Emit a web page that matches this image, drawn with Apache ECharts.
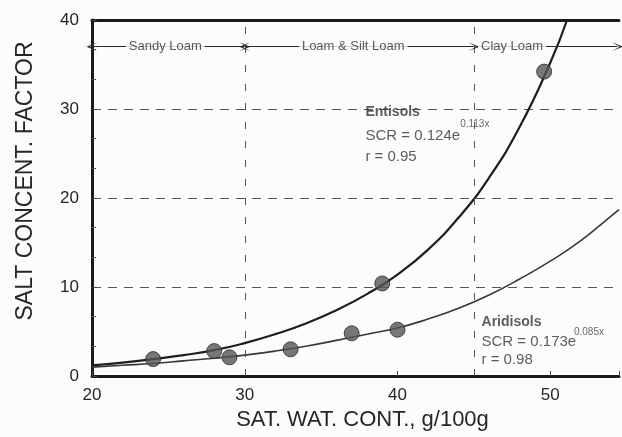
<!DOCTYPE html>
<html>
<head>
<meta charset="utf-8">
<script src="https://cdn.jsdelivr.net/npm/echarts@6/dist/echarts.min.js"></script>
<style>
html,body{margin:0;padding:0;background:#fcfcfc;}
#chart{width:622px;height:437px;}
</style>
</head>
<body>
<div id="chart"></div>
<script>
// ---- data ----
const xTicks = [20, 30, 40, 50];
const yTicks = [0, 10, 20, 30, 40];

// Entisols measured points
const entisolsX = [24, 28, 39, 49.6];
const entisolsY = [1.9, 2.8, 10.4, 34.2];
// Aridisols measured points
const aridisolsX = [29, 33, 37, 40];
const aridisolsY = [2.1, 3.0, 4.8, 5.2];

// fitted curves
const entisolsFitX = [20, 22, 24, 26, 28, 30, 32, 34, 36, 38, 40, 42, 44, 46, 48, 50, 51.1];
const entisolsFitY = [1.2, 1.5, 1.9, 2.35, 2.9, 3.7, 4.7, 5.9, 7.4, 9.2, 11.4, 14.2, 17.8, 22.3, 28.0, 35.2, 40];
const aridisolsFitX = [20, 22, 24, 26, 28, 30, 32, 34, 36, 38, 40, 42, 44, 46, 48, 50, 52, 54, 54.5];
const aridisolsFitY = [1.0, 1.2, 1.4, 1.7, 2.0, 2.35, 2.8, 3.35, 4.0, 4.7, 5.4, 6.4, 7.6, 9.1, 10.9, 12.9, 15.2, 18.0, 18.7];

// texture class boundaries
const textureBounds = [30, 45];
const textureNames = ['Sandy Loam', 'Loam & Silt Loam', 'Clay Loam'];
const textureLabelX = [24.8, 37.1, 47.5];
const textureRowY = 37;

// annotations
const annoText = ['Entisols', 'SCR = 0.124e', '0.113x', 'r = 0.95', 'Aridisols', 'SCR = 0.173e', '0.085x', 'r = 0.98'];
const annoX = [37.9, 37.9, 44.1, 37.9, 45.5, 45.5, 51.55, 45.5];
const annoY = [29.7, 26.95, 28.3, 24.6, 6.05, 3.8, 4.9, 1.8];
const annoKind = ['b', 'n', 's', 'n', 'b', 'n', 's', 'n'];

const zip = (xs, ys) => xs.map((x, i) => [x, ys[i]]);
const FONT = '"Liberation Sans", Arial, sans-serif';
const BG = '#fcfcfc';
const INK = '#262626';

const chart = echarts.init(document.getElementById('chart'), null, {renderer: 'canvas'});

const arrowSym = 'path://M0,10L5,0L10,10L5,3Z';

const option = {
  backgroundColor: BG,
  animation: false,
  grid: {left: 92, right: 0, top: 20, bottom: 61, containLabel: false},
  xAxis: [{
    type: 'value', min: 20, max: 54.5, interval: 10,
    name: 'SAT. WAT. CONT., g/100g', nameLocation: 'middle', nameGap: 26,
    nameTextStyle: {fontFamily: FONT, fontSize: 22, color: INK, padding: [0, 0, 0, 14]},
    axisLine: {show: true, lineStyle: {color: '#1a1a1a', width: 3}},
    axisTick: {show: true, inside: true, length: 5, lineStyle: {color: '#444'}},
    axisLabel: {fontFamily: FONT, fontSize: 17, color: INK, margin: 11,
      formatter: v => (xTicks.indexOf(v) >= 0 ? String(v) : '')},
    splitLine: {show: false}
  }, {
    type: 'value', min: 20, max: 54.5, position: 'top',
    axisLine: {show: true, lineStyle: {color: '#1a1a1a', width: 3}},
    axisTick: {show: false}, axisLabel: {show: false}, splitLine: {show: false}
  }],
  yAxis: {
    type: 'value', min: 0, max: 40, interval: 10,
    name: 'SALT CONCENT. FACTOR', nameLocation: 'middle', nameGap: 55,
    nameTextStyle: {fontFamily: FONT, fontSize: 23, color: INK, padding: [0, 0, 0, 34]},
    axisLine: {show: true, lineStyle: {color: '#1a1a1a', width: 3}},
    axisTick: {show: true, inside: true, length: 5, lineStyle: {color: '#444'}},
    minorTick: {show: true, splitNumber: 3, length: 4, lineStyle: {color: '#555'}},
    axisLabel: {fontFamily: FONT, fontSize: 17, color: INK, margin: 13,
      formatter: v => (yTicks.indexOf(v) >= 0 ? String(v) : '')},
    splitLine: {show: true, lineStyle: {color: '#555', width: 1, type: [9, 7]}}
  },
  series: [
    {
      name: 'bounds', type: 'line', data: [], z: 1, silent: true,
      markLine: {
        silent: true, symbol: ['none', 'none'],
        label: {show: false},
        lineStyle: {color: '#555', width: 1, type: [7, 12]},
        data: textureBounds.map(b => [{coord: [b, 0]}, {coord: [b, 40]}])
      }
    },
    {
      name: 'texture', type: 'line', data: [], z: 2, silent: true,
      markLine: {
        silent: true, symbol: ['none', 'none'], symbolSize: [9, 11],
        label: {show: false},
        lineStyle: {color: '#2a2a2a', width: 1.2, type: 'solid'},
        data: [
          [{coord: [20, textureRowY], symbol: arrowSym}, {coord: [textureBounds[0], textureRowY], symbol: arrowSym}],
          [{coord: [textureBounds[0], textureRowY], symbol: arrowSym}, {coord: [textureBounds[1], textureRowY], symbol: arrowSym}],
          [{coord: [textureBounds[1] + 0.2, textureRowY], symbol: 'none'}, {coord: [54.4, textureRowY], symbol: arrowSym}]
        ]
      }
    },
    {
      name: 'textureLabels', type: 'scatter', z: 6, silent: true, symbolSize: 0,
      data: textureNames.map((n, i) => ({name: n, value: [textureLabelX[i], textureRowY]})),
      label: {show: true, position: 'inside', formatter: p => p.name,
        fontFamily: FONT, fontSize: 13, color: '#2e2e2e', backgroundColor: BG, padding: [1, 3]}
    },
    {
      name: 'Entisols fit', type: 'line', smooth: true, showSymbol: false, symbol: 'none', z: 3,
      data: zip(entisolsFitX, entisolsFitY),
      lineStyle: {color: '#1e1e1e', width: 2.2}
    },
    {
      name: 'Aridisols fit', type: 'line', smooth: true, showSymbol: false, symbol: 'none', z: 3,
      data: zip(aridisolsFitX, aridisolsFitY),
      lineStyle: {color: '#383838', width: 1.6}
    },
    {
      name: 'Entisols', type: 'scatter', z: 4, symbolSize: 15,
      data: zip(entisolsX, entisolsY),
      itemStyle: {color: '#555', borderColor: '#2a2a2a', borderWidth: 1}
    },
    {
      name: 'Aridisols', type: 'scatter', z: 4, symbolSize: 15,
      data: zip(aridisolsX, aridisolsY),
      itemStyle: {color: '#555', borderColor: '#2a2a2a', borderWidth: 1}
    },
    {
      name: 'annotations', type: 'scatter', z: 7, silent: true, symbolSize: 0,
      data: annoText.map((t, i) => ({name: t, value: [annoX[i], annoY[i]]})),
      label: {show: true, position: 'right', distance: 0, align: 'left', verticalAlign: 'middle',
        formatter: p => '{' + annoKind[p.dataIndex] + '|' + p.name + '}',
        rich: {
          b: {fontFamily: FONT, fontSize: 14, fontWeight: 'bold', color: '#333'},
          n: {fontFamily: FONT, fontSize: 15, color: '#333'},
          s: {fontFamily: FONT, fontSize: 10, color: '#444'}
        }}
    }
  ]
};
chart.setOption(option);
</script>
</body>
</html>
